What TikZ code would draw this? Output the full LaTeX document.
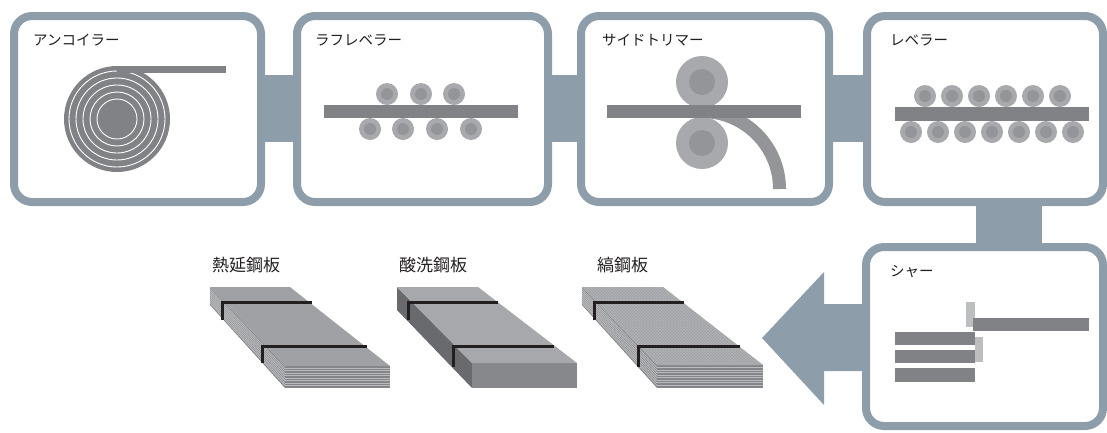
\documentclass[tikz,border=0pt]{standalone}
\usepackage{fontspec}
\setmainfont{Noto Sans CJK JP}
\usetikzlibrary{patterns}

\definecolor{frameblue}{RGB}{141,158,170}
\definecolor{steel}{RGB}{128,130,133}
\definecolor{rollout}{RGB}{167,169,172}
\definecolor{rollin}{RGB}{147,149,152}
\definecolor{blade}{RGB}{188,190,192}
\definecolor{inktext}{RGB}{35,31,32}
\definecolor{platetop}{RGB}{160,161,164}
\definecolor{plateside}{RGB}{132,133,136}
\definecolor{platestripe}{RGB}{186,187,189}
\definecolor{checker}{RGB}{178,179,181}
\definecolor{blocktop}{RGB}{167,168,171}
\definecolor{blockfront}{RGB}{135,136,139}
\definecolor{blockside}{RGB}{105,106,109}

\begin{document}
\begin{tikzpicture}[x=1pt,y=-1pt,
  stage/.style={draw=frameblue,line width=8pt,fill=white,rounded corners=18pt},
  link/.style={fill=frameblue},
  steelbar/.style={fill=steel},
  steplabel/.style={anchor=west,inner sep=0pt,text=inktext,font=\fontsize{14.5}{16}\selectfont},
  platelabel/.style={anchor=west,inner sep=0pt,text=inktext,font=\fontsize{17}{19}\selectfont},
  strap/.style={draw=inktext,line width=3pt},
  stripe/.style={draw=platestripe,line width=0.9pt}]
\useasboundingbox (0,0) rectangle (1107,432);

% Links between the stages
\fill[link] (250,75) rectangle (310,142);
\fill[link] (540,75) rectangle (590,142);
\fill[link] (820,75) rectangle (875,142);
\fill[link] (976,190) rectangle (1042,260); % down to the shear
% Big arrow out of the shear
\fill[link] (880,304) -- (824,304) -- (824,272) -- (762,338) -- (824,405) -- (824,371) -- (880,371) -- cycle;

% Stage frames
\draw[stage] (14,16) rectangle (261,202);
\draw[stage] (297,16) rectangle (548,202);
\draw[stage] (581,16) rectangle (829,202);
\draw[stage] (867,16) rectangle (1103,202);
\draw[stage] (866,247) rectangle (1103,426);

% Stage labels
\node[steplabel] (uncoiler) at (33,40) {アンコイラー};
\node[steplabel] (roughlev) at (315,40) {ラフレベラー};
\node[steplabel] (trimmer) at (602,40) {サイドトリマー};
\node[steplabel] (leveler) at (890,40) {レベラー};
\node[steplabel] (shear) at (890,272) {シャー};

% Coil
\fill[steel] (117,119) circle (53);
\foreach \r in {48,41,34,27,20}
  \draw[white,line width=0.9pt] (117,119) circle (\r);
\fill[steelbar] (117,66) rectangle (226,73);

% Rough leveler rolls
\foreach \x in {387,421,454} {
  \fill[rollout] (\x,94) circle (11);
  \fill[rollin] (\x,94) circle (6);
}
\foreach \x in {370,403,437,471} {
  \fill[rollout] (\x,129) circle (11);
  \fill[rollin] (\x,129) circle (6);
}
\fill[steelbar] (324,105) rectangle (518,118);

% Side trimmer, scrap edge bends away
\draw[rollin,line width=13pt] (702,111.5) arc[start angle=-90,end angle=0,radius=77.5];
\foreach \y in {82,143} {
  \fill[rollout] (702,\y) circle (26);
  \fill[rollin] (702,\y) circle (13);
}
\fill[steelbar] (607,105) rectangle (801,118);

% Leveler rolls
\foreach \k in {0,...,5} {
  \fill[rollout] (925+27*\k,96) circle (11);
  \fill[rollin] (925+27*\k,96) circle (6);
}
\foreach \k in {0,...,6} {
  \fill[rollout] (911+27*\k,132) circle (11);
  \fill[rollin] (911+27*\k,132) circle (6);
}
\fill[steelbar] (895,107) rectangle (1089,121);

% Shear blades and cut sheets
\fill[blade] (966,302) rectangle (975,327);
\fill[steelbar] (973,318) rectangle (1089,331);
\fill[blade] (975,337) rectangle (983,362);
\fill[steelbar] (895,332) rectangle (975,345);
\fill[steelbar] (895,350) rectangle (975,363);
\fill[steelbar] (895,368) rectangle (975,382);

% Plate labels
\node[platelabel] (hotrolled) at (212,265) {熱延鋼板};
\node[platelabel] (pickled) at (399,265) {酸洗鋼板};
\node[platelabel] (checkered) at (597,265) {縞鋼板};

% Hot rolled stack
\fill[plateside] (210,287) -- (285,366) -- (285,388) -- (210,305) -- cycle;
\foreach \k in {1,...,8}
  \draw[stripe] (210,287+2*\k) -- (285,366+2.44*\k);
\fill[plateside] (285,366) rectangle (390,388);
\foreach \k in {1,...,8}
  \draw[stripe] (285,366+2.44*\k) -- (390,366+2.44*\k);
\fill[platetop] (210,287) -- (290,287) -- (390,366) -- (285,366) -- cycle;
\draw[strap] (222,320) -- (222,302) -- (312,302);
\draw[strap] (262,363) -- (262,346) -- (367,346);

% Pickled block
\fill[blockside] (397,287) -- (472,363) -- (472,388) -- (397,310) -- cycle;
\fill[blockfront] (472,363) rectangle (577,388);
\fill[blocktop] (397,287) -- (478,287) -- (577,363) -- (472,363) -- cycle;
\draw[strap] (408,320) -- (408,302) -- (498,302);
\draw[strap] (453,367) -- (453,346) -- (554,346);

% Checkered stack
\fill[plateside] (582,287) -- (657,365) -- (657,388) -- (582,305) -- cycle;
\foreach \k in {1,...,8}
  \draw[stripe] (582,287+2*\k) -- (657,365+2.55*\k);
\fill[plateside] (657,365) rectangle (763,388);
\foreach \k in {1,...,8}
  \draw[stripe] (657,365+2.55*\k) -- (763,365+2.55*\k);
\fill[platetop] (582,287) -- (663,287) -- (763,365) -- (657,365) -- cycle;
\fill[pattern=crosshatch,pattern color=checker] (582,287) -- (663,287) -- (763,365) -- (657,365) -- cycle;
\draw[strap] (594,320) -- (594,302) -- (684,302);
\draw[strap] (638,367) -- (638,346) -- (740,346);

\end{tikzpicture}
\end{document}
